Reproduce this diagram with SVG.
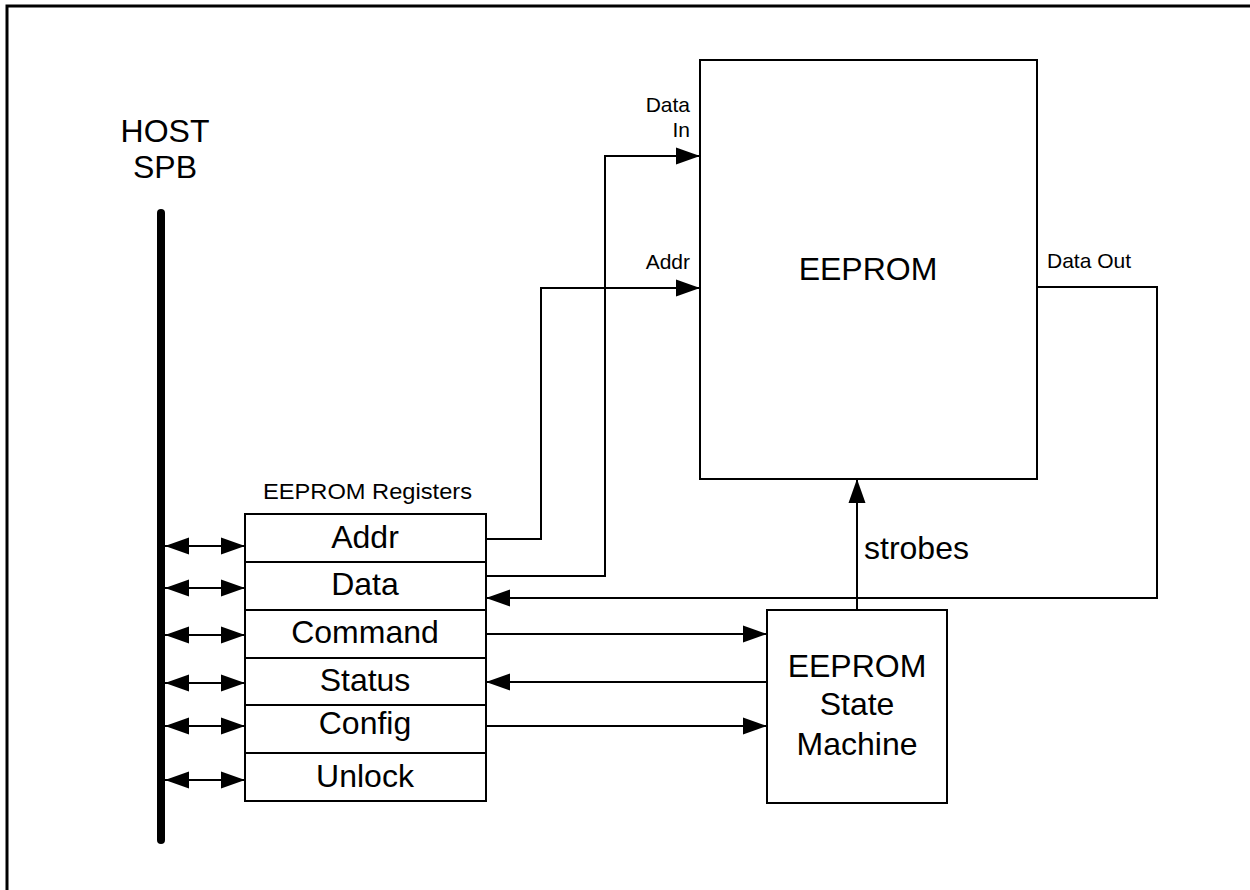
<svg xmlns="http://www.w3.org/2000/svg" width="1250" height="890" viewBox="0 0 1250 890">
<style>
.box{fill:#fff;stroke:#000;stroke-width:2}
.ln{fill:none;stroke:#000;stroke-width:2}
.big{font-family:"Liberation Sans",Arial,sans-serif;font-size:32px;fill:#000}
.sm{font-family:"Liberation Sans",Arial,sans-serif;font-size:21px;fill:#000}
</style>
<defs>
<marker id="ah" markerUnits="userSpaceOnUse" markerWidth="25" markerHeight="18" viewBox="0 0 25 18" refX="24" refY="9" orient="auto-start-reverse">
<path d="M0,0.5 L24,9 L0,17.5 Z" fill="#000"/>
</marker>
</defs>
<rect width="1250" height="890" fill="#fff"/>
<path d="M7,890 V6 H1250" fill="none" stroke="#000" stroke-width="3"/>

<g id="host-bus">
<line x1="161" y1="213" x2="161" y2="840" stroke="#000" stroke-width="8" stroke-linecap="round"/>
<text class="big" x="165" y="142" text-anchor="middle">HOST</text>
<text class="big" x="165" y="178" text-anchor="middle">SPB</text>
</g>

<g id="registers">
<text class="sm" x="263" y="499" style="font-size:22px" textLength="209" lengthAdjust="spacingAndGlyphs">EEPROM Registers</text>
<g id="reg-addr"><rect class="box" x="245" y="514" width="241" height="48"/><text class="big" x="365" y="548" text-anchor="middle">Addr</text></g>
<g id="reg-data"><rect class="box" x="245" y="562" width="241" height="48"/><text class="big" x="365" y="595" text-anchor="middle">Data</text></g>
<g id="reg-command"><rect class="box" x="245" y="610" width="241" height="48"/><text class="big" x="365" y="643" text-anchor="middle">Command</text></g>
<g id="reg-status"><rect class="box" x="245" y="658" width="241" height="47"/><text class="big" x="365" y="691" text-anchor="middle">Status</text></g>
<g id="reg-config"><rect class="box" x="245" y="705" width="241" height="48"/><text class="big" x="365" y="734" text-anchor="middle">Config</text></g>
<g id="reg-unlock"><rect class="box" x="245" y="753" width="241" height="48"/><text class="big" x="365" y="787" text-anchor="middle">Unlock</text></g>
</g>

<g id="eeprom">
<rect class="box" x="700" y="60" width="337" height="419"/>
<text class="big" x="868" y="280" text-anchor="middle">EEPROM</text>
</g>

<g id="state-machine">
<rect class="box" x="767" y="610" width="180" height="193"/>
<text class="big" x="857" y="677" text-anchor="middle">EEPROM</text>
<text class="big" x="857" y="715" text-anchor="middle">State</text>
<text class="big" x="857" y="755" text-anchor="middle">Machine</text>
</g>

<g id="connectors">
<line class="ln" x1="165" y1="546" x2="245" y2="546" marker-start="url(#ah)" marker-end="url(#ah)"/>
<line class="ln" x1="165" y1="588" x2="245" y2="588" marker-start="url(#ah)" marker-end="url(#ah)"/>
<line class="ln" x1="165" y1="635" x2="245" y2="635" marker-start="url(#ah)" marker-end="url(#ah)"/>
<line class="ln" x1="165" y1="683" x2="245" y2="683" marker-start="url(#ah)" marker-end="url(#ah)"/>
<line class="ln" x1="165" y1="726" x2="245" y2="726" marker-start="url(#ah)" marker-end="url(#ah)"/>
<line class="ln" x1="165" y1="780" x2="245" y2="780" marker-start="url(#ah)" marker-end="url(#ah)"/>

<path class="ln" d="M486,539 H541 V288 H700" marker-end="url(#ah)"/>
<path class="ln" d="M486,576 H605 V156 H700" marker-end="url(#ah)"/>
<path class="ln" d="M1037,287 H1157 V598 H486" marker-end="url(#ah)"/>
<path class="ln" d="M857,610 V479" marker-end="url(#ah)"/>
<path class="ln" d="M486,634 H767" marker-end="url(#ah)"/>
<path class="ln" d="M767,682 H486" marker-end="url(#ah)"/>
<path class="ln" d="M486,726 H767" marker-end="url(#ah)"/>

<text class="sm" x="690" y="112" text-anchor="end">Data</text>
<text class="sm" x="690" y="137" text-anchor="end">In</text>
<text class="sm" x="690" y="269" text-anchor="end">Addr</text>
<text class="sm" x="1047" y="268">Data Out</text>
<text class="big" x="864" y="559">strobes</text>
</g>
</svg>
